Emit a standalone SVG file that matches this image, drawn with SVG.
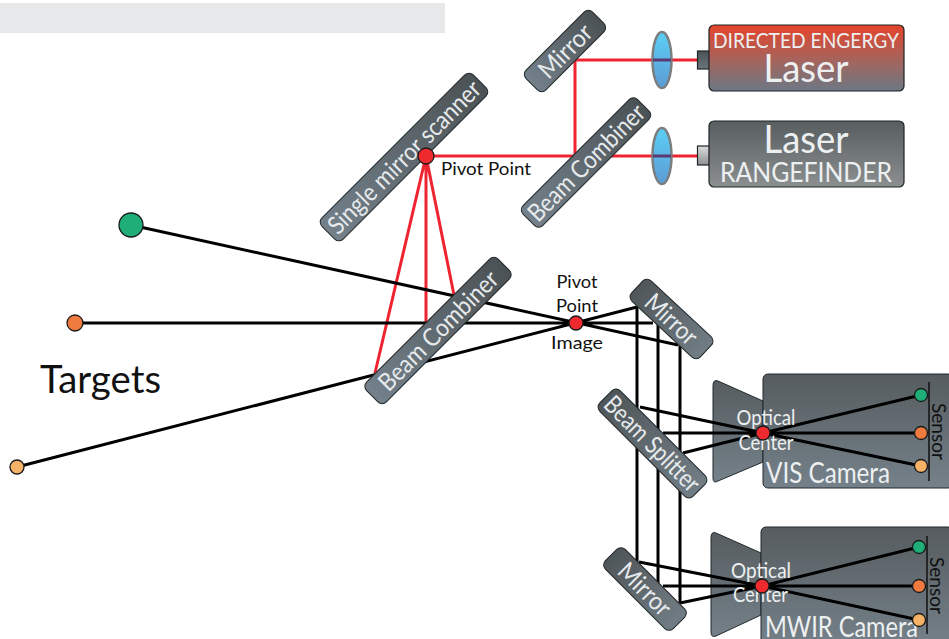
<svg xmlns="http://www.w3.org/2000/svg" width="949" height="639" viewBox="0 0 949 639">
<style>
text{font-family:Lato,"Open Sans","Liberation Sans",sans-serif}
.m rect{stroke:#22282b;stroke-width:1}
.mu rect{fill:url(#gu)}
.md rect{fill:url(#gd)}
.m text{fill:#e6eaec;font-size:25px;text-anchor:middle}
.b{fill:none;stroke:#000;stroke-width:3}
.r{fill:none;stroke:#ee2430;stroke-width:3}
.body{fill:url(#gv);stroke:#23292c;stroke-width:1}
.w{fill:#edf0f1}
.k{fill:#111}
.dot{stroke:#1a1a1a;stroke-width:1.3}
.lens{fill:url(#gl);stroke:#7a7e80;stroke-width:2.5}
.seg{stroke:#5a3a70;stroke-width:3}
.box{stroke:#1e2426;stroke-width:1.2}
</style>
<defs>
<linearGradient id="gu" x1="1" y1="0" x2="0" y2="0"><stop offset="0" stop-color="#4b5255"/><stop offset="1" stop-color="#74808a"/></linearGradient>
<linearGradient id="gd" x1="0" y1="0" x2="1" y2="0"><stop offset="0" stop-color="#4f5659"/><stop offset="1" stop-color="#717d85"/></linearGradient>
<linearGradient id="gv" x1="0" y1="0" x2="0" y2="1"><stop offset="0" stop-color="#565c5f"/><stop offset="1" stop-color="#75818a"/></linearGradient>
<linearGradient id="gred" x1="0" y1="0" x2="0" y2="1"><stop offset="0" stop-color="#e5432a"/><stop offset=".55" stop-color="#a3655f"/><stop offset="1" stop-color="#6c7884"/></linearGradient>
<linearGradient id="gg" x1="0" y1="0" x2="0" y2="1"><stop offset="0" stop-color="#585d5f"/><stop offset="1" stop-color="#8b8f90"/></linearGradient>
<linearGradient id="gl" x1="0" y1="0" x2="0" y2="1"><stop offset="0" stop-color="#5ccff6"/><stop offset="1" stop-color="#5b9bd5"/></linearGradient>
<linearGradient id="gs1" x1="0" y1="0" x2="0" y2="1"><stop offset="0" stop-color="#4a5256"/><stop offset="1" stop-color="#6b767c"/></linearGradient>
<linearGradient id="gs2" x1="0" y1="0" x2="0" y2="1"><stop offset="0" stop-color="#dcdcdc"/><stop offset="1" stop-color="#8c9090"/></linearGradient>
</defs>
<rect id="top-bar" x="0" y="3" width="445" height="30" fill="#e7e8ea"/>

<g id="vis-camera-body">
<path class="body" d="M718 381L763 401V462L718 481Q713 484 713 478V386Q713 379 718 381Z"/>
<rect class="body" x="763" y="374" width="190" height="114" rx="5"/>
<path d="M929 382V481" stroke="#111" stroke-width="1.5"/>
</g>
<g id="mwir-camera-body">
<path class="body" d="M716 533L761 553V615L716 636Q711 638 711 632V538Q711 531 716 533Z"/>
<rect class="body" x="761" y="527" width="192" height="120" rx="5"/>
<path d="M927 536V634" stroke="#111" stroke-width="1.5"/>
</g>

<g id="connectors">
<path class="r" d="M426 156H575V60H698M575 156H698M426 156L375 373M426 156V323M426 156L454 295"/>
<path class="b" d="M131 225L678 345M75 323H653M17 467L637 307"/>
<path class="b" d="M637 307V562M658 323V586M680 345V603"/>
<path class="b" d="M640 407L763 433L921 466M683 453L763 433L921 395M663 433H921"/>
<path class="b" d="M639 562L762 586L919 620M680 603L762 586L919 547M663 586H919"/>
</g>

<g id="mirror-top" class="m mu" transform="translate(565 51) rotate(-45)"><rect x="-47" y="-14" width="94" height="28" rx="6"/><text y="9" textLength="65" lengthAdjust="spacingAndGlyphs">Mirror</text></g>
<g id="beam-combiner-top" class="m mu" transform="translate(586 162.500) rotate(-45)"><rect x="-81" y="-14" width="162" height="28" rx="6"/><text y="9" textLength="154" lengthAdjust="spacingAndGlyphs">Beam Combiner</text></g>
<g id="single-mirror-scanner" class="m mu" transform="translate(404 157) rotate(-45)"><rect x="-107" y="-15" width="214" height="30" rx="6"/><text y="9" textLength="205" lengthAdjust="spacingAndGlyphs">Single mirror scanner</text></g>
<g id="beam-combiner-main" class="m mu" transform="translate(438 330.500) rotate(-45)"><rect x="-93" y="-14" width="186" height="28" rx="6"/><text y="9" textLength="158" lengthAdjust="spacingAndGlyphs">Beam Combiner</text></g>
<g id="mirror-right" class="m md" transform="translate(671.500 319) rotate(43)"><rect x="-47" y="-14" width="94" height="28" rx="6"/><text y="9" textLength="62" lengthAdjust="spacingAndGlyphs">Mirror</text></g>
<g id="beam-splitter" class="m md" transform="translate(652.500 443.500) rotate(45)"><rect x="-66" y="-14.500" width="132" height="29" rx="6"/><text y="9" textLength="124" lengthAdjust="spacingAndGlyphs">Beam Splitter</text></g>
<g id="mirror-bottom" class="m md" transform="translate(645 589) rotate(45)"><rect x="-48" y="-14" width="96" height="28" rx="6"/><text y="9" textLength="64" lengthAdjust="spacingAndGlyphs">Mirror</text></g>

<g id="lens-1"><ellipse class="lens" cx="662" cy="60" rx="9.500" ry="28"/><path class="seg" d="M653 60H671"/></g>
<g id="lens-2"><ellipse class="lens" cx="662" cy="156" rx="9.500" ry="28"/><path class="seg" d="M653 156H671"/></g>

<g id="laser-de">
<rect x="697.500" y="51" width="12" height="18" fill="url(#gs1)" class="box"/>
<rect class="box" x="709" y="25" width="195" height="66" rx="5" fill="url(#gred)"/>
<text class="w" x="806" y="48" font-size="21" text-anchor="middle" textLength="186" lengthAdjust="spacingAndGlyphs">DIRECTED ENGERGY</text>
<text class="w" x="806" y="82" font-size="39" text-anchor="middle" textLength="85" lengthAdjust="spacingAndGlyphs">Laser</text>
</g>
<g id="laser-rf">
<rect x="697.500" y="146" width="12" height="19" fill="url(#gs2)" class="box"/>
<rect class="box" x="709" y="121" width="195" height="66" rx="5" fill="url(#gg)"/>
<text class="w" x="806" y="153" font-size="39" text-anchor="middle" textLength="85" lengthAdjust="spacingAndGlyphs">Laser</text>
<text class="w" x="806" y="182" font-size="26" text-anchor="middle" textLength="172" lengthAdjust="spacingAndGlyphs">RANGEFINDER</text>
</g>

<g id="vis-camera-labels">
<text class="w" x="766" y="425" font-size="21" text-anchor="middle" textLength="59" lengthAdjust="spacingAndGlyphs">Optical</text>
<text class="w" x="766" y="450" font-size="21" text-anchor="middle" textLength="55" lengthAdjust="spacingAndGlyphs">Center</text>
<text class="w" x="766" y="483" font-size="28" textLength="124" lengthAdjust="spacingAndGlyphs">VIS Camera</text>
<text class="k" transform="translate(932 403) rotate(90)" font-size="20" textLength="57" lengthAdjust="spacingAndGlyphs">Sensor</text>
<circle id="optical-center-vis" class="dot" cx="763" cy="433" r="7" fill="#ee2a2e"/>
<circle class="dot" cx="921" cy="395" r="6.500" fill="#1fae78"/>
<circle class="dot" cx="921" cy="433" r="6.500" fill="#ef7b3f"/>
<circle class="dot" cx="921" cy="466" r="6.500" fill="#f6b266"/>
</g>
<g id="mwir-camera-labels">
<text class="w" x="761" y="578" font-size="21" text-anchor="middle" textLength="60" lengthAdjust="spacingAndGlyphs">Optical</text>
<text class="w" x="760.500" y="602" font-size="21" text-anchor="middle" textLength="55" lengthAdjust="spacingAndGlyphs">Center</text>
<text class="w" x="765" y="637" font-size="28" textLength="153" lengthAdjust="spacingAndGlyphs">MWIR Camera</text>
<text class="k" transform="translate(930 557) rotate(90)" font-size="20" textLength="57" lengthAdjust="spacingAndGlyphs">Sensor</text>
<circle id="optical-center-mwir" class="dot" cx="762" cy="586" r="7" fill="#ee2a2e"/>
<circle class="dot" cx="919" cy="547" r="6.500" fill="#1fae78"/>
<circle class="dot" cx="919" cy="586" r="6.500" fill="#ef7b3f"/>
<circle class="dot" cx="919" cy="620" r="6.500" fill="#f6b266"/>
</g>

<g id="pivot-point"><circle class="dot" cx="426" cy="156" r="8" fill="#ee2a2e"/><text class="k" x="441" y="175" font-size="18" textLength="90" lengthAdjust="spacingAndGlyphs">Pivot Point</text></g>
<g id="pivot-image"><circle class="dot" cx="576" cy="323" r="7" fill="#ee2a2e"/>
<text class="k" x="577" y="288" font-size="18" text-anchor="middle" textLength="41" lengthAdjust="spacingAndGlyphs">Pivot</text>
<text class="k" x="577" y="312" font-size="18" text-anchor="middle" textLength="42" lengthAdjust="spacingAndGlyphs">Point</text>
<text class="k" x="577" y="349" font-size="18" text-anchor="middle" textLength="52" lengthAdjust="spacingAndGlyphs">Image</text></g>

<g id="target-green"><circle class="dot" cx="131" cy="225" r="12" fill="#1fae78"/></g>
<g id="target-orange"><circle class="dot" cx="75" cy="323" r="8" fill="#ef7b3f"/></g>
<g id="target-light"><circle class="dot" cx="17" cy="467" r="7" fill="#f6b266"/></g>
<text id="targets-label" class="k" x="40" y="393" font-size="38" textLength="121" lengthAdjust="spacingAndGlyphs">Targets</text>
</svg>
